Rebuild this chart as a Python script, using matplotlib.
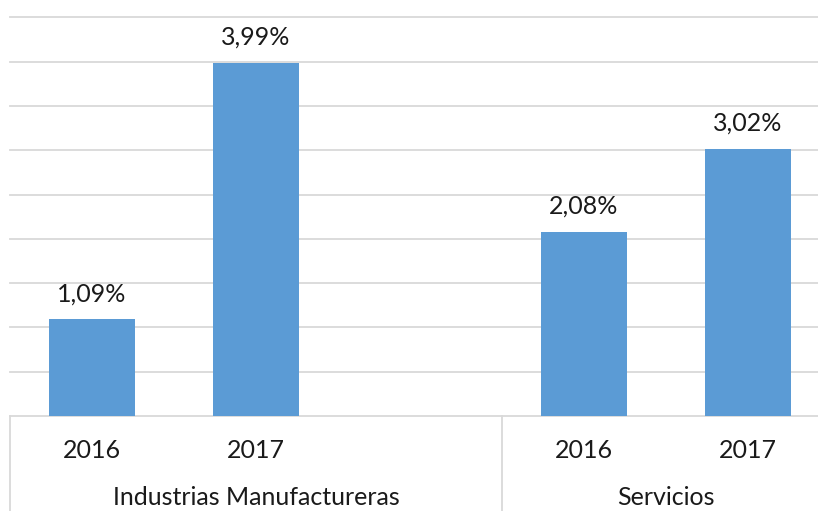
import matplotlib
matplotlib.use("Agg")
import matplotlib.pyplot as plt
import matplotlib.transforms as mtransforms

# datos
years = ["2016", "2017", "", "2016", "2017"]
values = [1.09, 3.99, None, 2.08, 3.02]
groups = ["Industrias Manufactureras", "Servicios"]
group_spans = [(0, 2), (3, 4)]

bar_color = "#5b9bd5"
grid_color = "#d9d9d9"
text_color = "#1a1a1a"

plt.rcParams['font.family'] = ['Lato', 'DejaVu Sans']

fig = plt.figure(figsize=(8.18, 5.11), dpi=100)
ax = fig.add_axes([10 / 818, 95 / 511, 808 / 818, 398.5 / 511])

xs = [i for i, v in enumerate(values) if v is not None]
vs = [v for v in values if v is not None]
ax.bar(xs, vs, width=0.525, color=bar_color, zorder=3)

for x, v in zip(xs, vs):
    ax.annotate(f"{v:.2f}".replace(".", ",") + "%", (x, v), xytext=(0, 10),
                textcoords="offset points", ha="center", va="bottom",
                fontsize=18, color=text_color)

ax.set_xlim(-0.5, 4.427)
ax.set_ylim(0, 4.5)
for i in range(10):
    ax.axhline(i * 0.5, color=grid_color, linewidth=1.3, zorder=0, clip_on=False)
ax.tick_params(left=False, labelleft=False, bottom=False, labelbottom=False)
for s in ax.spines.values():
    s.set_visible(False)

trans = mtransforms.blended_transform_factory(ax.transData, ax.transAxes)

# etiquetas de año
for i, y in enumerate(years):
    if y:
        ax.annotate(y, (i, 0), xycoords=trans, xytext=(0, -24.5),
                    textcoords="offset points", ha="center", va="center",
                    fontsize=18, color=text_color)

# separadores y nombres de grupo
bounds = [-0.5]
for (a, b), name in zip(group_spans, groups):
    left = bounds[-1]
    right = b + 0.5
    bounds.append(right)
    ax.annotate(name, ((left + right) / 2, 0), xycoords=trans, xytext=(0, -58.5),
                textcoords="offset points", ha="center", va="center",
                fontsize=18, color=text_color)

for bx in bounds[:-1]:
    ax.plot([bx, bx], [0, -0.3], transform=trans, color=grid_color,
            linewidth=1.3, clip_on=False)

fig.savefig("out.png", dpi=100)
